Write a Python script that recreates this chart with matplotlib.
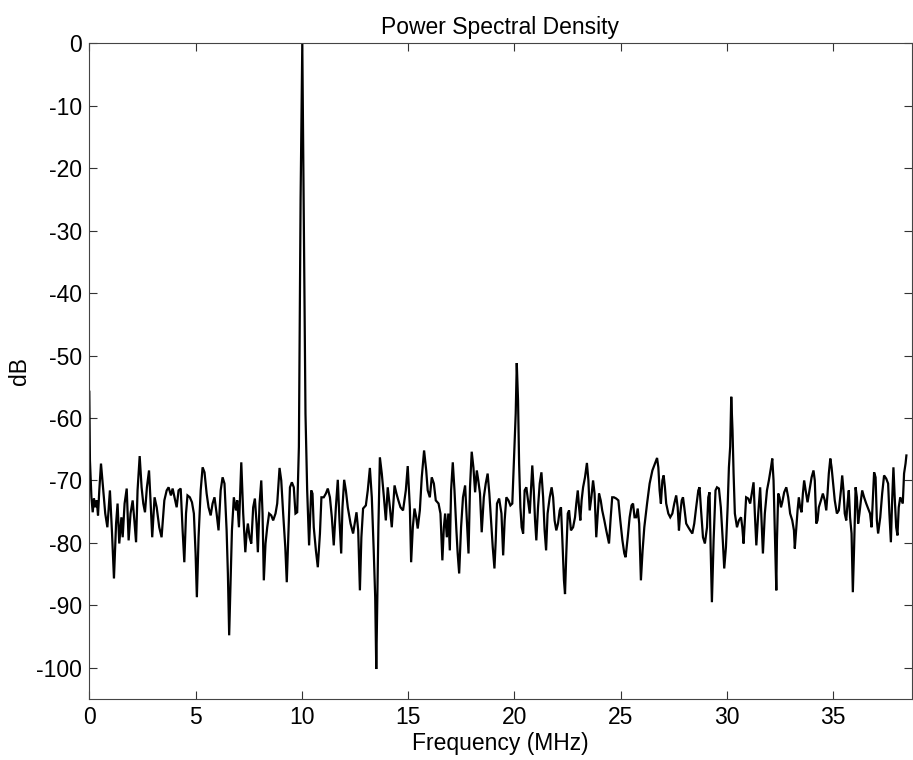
import matplotlib
matplotlib.use("Agg")
import matplotlib.pyplot as plt

freq_mhz = [
    0.00, 0.03, 0.10, 0.16, 0.22, 0.28, 0.35, 0.41, 0.47, 0.55, 0.66, 0.75, 0.85, 0.97, 1.07, 1.16,
    1.26, 1.33, 1.41, 1.51, 1.57, 1.66, 1.76, 1.85, 1.94, 2.04, 2.12, 2.20, 2.27, 2.37, 2.46, 2.54,
    2.62, 2.71, 2.81, 2.88, 2.96, 3.07, 3.17, 3.29, 3.40, 3.53, 3.64, 3.73, 3.84, 3.92, 4.01, 4.11,
    4.20, 4.30, 4.39, 4.47, 4.55, 4.62, 4.73, 4.83, 4.92, 5.00, 5.06, 5.14, 5.24, 5.33, 5.42, 5.52,
    5.61, 5.71, 5.80, 5.89, 5.99, 6.08, 6.18, 6.27, 6.36,
    6.46, 6.52, 6.58, 6.65, 6.71, 6.80, 6.90, 6.96, 7.04, 7.15, 7.24, 7.34, 7.40, 7.46, 7.54, 7.62,
    7.71, 7.79, 7.87, 7.93, 8.01, 8.09, 8.15, 8.21, 8.29, 8.37, 8.46, 8.56, 8.65, 8.76, 8.84, 8.95,
    9.03, 9.12, 9.22, 9.29, 9.36, 9.44, 9.53, 9.62, 9.70, 9.78, 9.86, 9.94, 10.02, 10.09, 10.17,
    10.25, 10.34, 10.44, 10.50, 10.56, 10.66, 10.75, 10.85, 10.92, 11.03, 11.13, 11.22, 11.32, 11.41,
    11.50, 11.60, 11.69, 11.77, 11.85, 11.91, 11.99, 12.07, 12.16, 12.29, 12.41, 12.51, 12.57, 12.65,
    12.73, 12.80,
    12.88, 13.01, 13.10, 13.20, 13.29, 13.38, 13.45, 13.50, 13.56, 13.60, 13.67, 13.76, 13.86, 13.95,
    14.04, 14.14, 14.23, 14.36, 14.45, 14.54, 14.64, 14.76, 14.89, 14.98, 15.08, 15.14, 15.22, 15.30,
    15.38, 15.45, 15.55, 15.64, 15.75, 15.85, 15.92, 16.02, 16.11, 16.21, 16.30, 16.43, 16.52, 16.61,
    16.68, 16.74, 16.82, 16.89, 16.96, 17.02, 17.10, 17.18, 17.27, 17.33, 17.40, 17.49, 17.58, 17.68,
    17.77, 17.84, 17.91, 17.99, 18.07, 18.15, 18.23, 18.30, 18.38, 18.46, 18.56, 18.65, 18.74, 18.82,
    18.90, 18.98, 19.06, 19.12, 19.18, 19.28,
    19.39, 19.47, 19.54, 19.62, 19.72, 19.81, 19.90, 19.99, 20.06, 20.11, 20.17, 20.22, 20.28, 20.34,
    20.41, 20.48, 20.56, 20.64, 20.72, 20.80, 20.84, 20.91, 20.97, 21.03, 21.11, 21.19, 21.27, 21.35,
    21.42, 21.49, 21.56, 21.66, 21.75, 21.82, 21.89, 21.97, 22.05, 22.13, 22.19, 22.25, 22.33, 22.38,
    22.44, 22.51, 22.57, 22.66, 22.76, 22.85, 22.91, 22.98, 23.04, 23.10, 23.16, 23.23, 23.32, 23.41,
    23.48, 23.54, 23.62, 23.70, 23.77, 23.85, 23.92, 23.98, 24.06, 24.13, 24.23, 24.32, 24.45, 24.53,
    24.60, 24.68, 24.79, 24.89, 24.98, 25.08, 25.17, 25.23, 25.33, 25.42, 25.51, 25.58, 25.65, 25.73,
    25.80, 25.87, 25.95, 26.03, 26.11, 26.24, 26.36, 26.49, 26.61, 26.71, 26.77, 26.83, 26.89, 26.96,
    27.02, 27.08, 27.14, 27.24, 27.33, 27.43, 27.52, 27.61, 27.68, 27.74, 27.80, 27.87, 27.93, 27.99,
    28.08, 28.18, 28.27, 28.37, 28.46, 28.55, 28.65, 28.71, 28.77, 28.87, 28.96, 29.06, 29.12, 29.18,
    29.23, 29.29, 29.37, 29.46, 29.53, 29.62, 29.71, 29.81, 29.87, 29.95, 30.03, 30.09, 30.15, 30.20,
    30.26, 30.31, 30.37, 30.47, 30.56, 30.66, 30.72, 30.78, 30.84, 30.90, 31.00, 31.09, 31.19, 31.25,
    31.31, 31.38, 31.47, 31.56, 31.63, 31.69, 31.78, 31.88, 31.97, 32.07, 32.13, 32.19, 32.25, 32.32,
    32.35, 32.41, 32.47, 32.54, 32.60, 32.69, 32.79, 32.88, 32.97, 33.07, 33.15, 33.19, 33.26, 33.32,
    33.38, 33.44, 33.51, 33.57, 33.63, 33.70, 33.79, 33.88, 33.98, 34.07, 34.13, 34.20, 34.26, 34.32,
    34.42, 34.51, 34.60, 34.67, 34.73, 34.79, 34.86, 34.92, 34.98, 35.07, 35.17, 35.26, 35.36, 35.42,
    35.48, 35.54, 35.61, 35.67, 35.73, 35.79, 35.86, 35.92, 35.98, 36.05, 36.11, 36.17, 36.23, 36.30,
    36.36, 36.45, 36.55, 36.64, 36.73, 36.80, 36.86, 36.92, 36.99, 37.05, 37.11, 37.21, 37.30, 37.39,
    37.49, 37.58, 37.64, 37.71, 37.77, 37.83, 37.89, 37.96, 38.02, 38.08, 38.15, 38.21, 38.27, 38.33,
    38.40, 38.44,
]

psd_db = [
    -55.8, -66.8, -72.7, -75.1, -72.9, -74.3, -73.2, -75.6, -71.6, -67.3, -71.6, -75.3, -77.5, -71.6, -78.5, -85.7,
    -76.9, -73.7, -80.1, -75.9, -79.1, -73.7, -71.3, -79.6, -75.3, -73.2, -76.4, -79.9, -71.6, -66.1, -71.1, -73.7,
    -75.1, -71.1, -68.4, -73.2, -79.1, -72.7, -74.3, -77.5, -79.1, -73.2, -71.6, -71.1, -72.4, -71.3, -72.7, -74.3,
    -71.6, -71.3, -78.0, -83.1, -75.3, -72.4, -72.7, -73.5, -75.3, -81.7, -88.7, -79.1, -71.6, -67.9, -68.7, -72.1,
    -74.3, -75.6, -73.7, -72.7, -75.3, -78.0, -71.6, -69.5, -70.5,
    -78.0, -85.0, -94.8, -86.0, -78.0, -72.7, -74.8, -73.2, -77.5, -67.1, -75.3, -81.5, -78.5, -76.9, -79.1, -80.1,
    -74.3, -72.9, -76.9, -81.5, -73.7, -70.0, -75.3, -86.0, -80.1, -77.5, -75.3, -75.6, -76.4, -75.3, -73.7, -68.0,
    -70.0, -75.3, -80.7, -86.3, -79.1, -71.1, -70.3, -71.1, -75.3, -75.1, -64.6, -25.0, 0.0, -27.0, -59.3,
    -71.6, -80.4, -71.6, -72.1, -77.5, -81.2, -83.9, -78.5, -72.7, -72.7, -72.1, -71.3, -72.7, -75.9,
    -80.4, -74.3, -69.9, -76.4, -81.7, -74.3, -69.9, -71.6, -74.3, -76.9, -78.5, -76.4, -75.1, -78.0,
    -87.6, -79.1,
    -74.5, -74.0, -71.6, -68.0, -72.7, -81.2, -88.7, -100.2, -87.1, -77.5, -66.3, -68.9, -72.7, -76.4,
    -71.1, -74.3, -77.5, -70.8, -72.1, -73.2, -74.3, -74.8, -71.6, -67.7, -74.3, -83.1, -77.5, -74.5,
    -75.9, -77.7, -74.8, -69.5, -65.2, -68.4, -71.6, -72.7, -69.5, -70.5, -73.2, -73.7, -75.3, -82.8,
    -77.5, -75.3, -79.1, -75.3, -81.2, -71.6, -67.1, -71.6, -78.0, -81.7, -84.9, -77.5, -72.7, -70.8,
    -76.9, -81.7, -71.1, -65.4, -67.9, -71.9, -68.4, -70.0, -72.1, -78.3, -72.7, -70.5, -68.9, -72.1,
    -76.4, -80.7, -84.1, -79.6, -73.7, -72.9,
    -75.3, -82.0, -76.4, -72.7, -73.2, -74.0, -73.7, -65.7, -59.3, -51.2, -57.2, -67.3, -74.3, -77.5,
    -78.5, -71.6, -71.1, -73.2, -75.3, -70.0, -67.6, -71.6, -76.4, -79.6, -74.3, -70.5, -68.7, -72.7,
    -78.0, -81.2, -75.3, -72.7, -71.1, -72.7, -76.4, -78.0, -76.9, -74.8, -74.3, -79.1, -86.0, -88.2,
    -81.7, -75.3, -74.8, -78.0, -77.5, -75.9, -73.7, -71.6, -74.3, -76.4, -73.2, -71.1, -69.5, -67.2,
    -70.0, -74.8, -72.7, -70.0, -72.1, -79.1, -75.3, -72.1, -73.2, -74.8, -76.4, -78.0, -80.1, -75.9,
    -72.7, -72.7, -72.9, -73.2, -76.4, -79.6, -81.7, -82.3, -79.1, -75.9, -74.0, -73.7, -75.9, -75.9,
    -74.5, -76.9, -86.0, -81.2, -77.5, -73.7, -70.5, -68.4, -67.3, -66.4, -67.9, -71.6, -73.7, -70.0,
    -69.2, -71.1, -73.7, -75.3, -75.9, -75.3, -73.7, -72.4, -74.3, -78.0, -75.3, -73.2, -72.7, -74.3,
    -76.9, -77.5, -78.0, -78.5, -76.9, -74.3, -71.6, -71.1, -74.3, -79.1, -80.1, -77.5, -72.7, -71.9,
    -80.7, -89.5, -79.6, -71.6, -71.1, -71.3, -74.3, -80.1, -84.1, -80.7, -74.3, -67.9, -64.6, -56.6,
    -62.0, -68.9, -75.3, -77.5, -76.4, -75.9, -77.5, -80.1, -76.4, -72.7, -72.9, -73.7, -71.6, -70.3,
    -75.3, -80.4, -75.3, -71.1, -76.9, -81.7, -75.3, -71.6, -70.0, -67.9, -66.5, -70.0, -78.0, -87.6,
    -79.6, -72.1, -72.7, -74.3, -73.5, -71.9, -71.1, -72.7, -75.3, -76.4, -78.0, -80.9, -77.5, -74.8,
    -72.7, -74.3, -75.1, -72.1, -70.0, -71.6, -73.5, -71.6, -69.5, -68.4, -70.0, -76.9, -76.4, -74.3,
    -73.2, -72.1, -73.2, -74.8, -72.1, -68.9, -66.5, -67.9, -70.0, -73.2, -75.3, -74.8, -71.6, -69.2,
    -71.6, -75.3, -76.4, -73.7, -71.6, -75.9, -78.5, -87.9, -80.7, -71.1, -72.7, -76.9, -75.3, -73.2,
    -71.6, -72.7, -73.7, -74.5, -75.3, -77.5, -73.2, -68.7, -69.5, -76.4, -78.5, -75.9, -72.1, -69.2,
    -69.7, -70.5, -75.3, -79.9, -73.2, -67.9, -72.7, -77.5, -78.8, -74.3, -72.7, -73.2, -73.7, -68.9,
    -67.3, -66.0,
]

x_ticks = [0, 5, 10, 15, 20, 25, 30, 35]
y_ticks = [0, -10, -20, -30, -40, -50, -60, -70, -80, -90, -100]
x_limits = (0, 38.68)
y_limits = (-105, 0)

plt.rcParams['font.family'] = ['Liberation Sans', 'DejaVu Sans']

fig = plt.figure(figsize=(9.13, 7.60), dpi=100)
ax = fig.add_axes([89.3 / 913, 1 - 699 / 760, (911.5 - 89.3) / 913, (699 - 43.3) / 760])

ax.plot(freq_mhz, psd_db, color='black', linewidth=1.6, solid_joinstyle='miter')

ax.set_xlim(*x_limits)
ax.set_ylim(*y_limits)
ax.set_xticks(x_ticks)
ax.set_yticks(y_ticks)
ax.set_xticklabels([str(t) for t in x_ticks])
ax.set_yticklabels([str(t) for t in y_ticks])

ax.tick_params(direction='in', length=6, width=0.8, colors='#333333', labelcolor='black',
               labelsize=16.5, top=True, right=True, pad=5)
for s in ax.spines.values():
    s.set_color('#444444')
    s.set_linewidth(0.8)

ax.set_title('Power Spectral Density', fontsize=16.5, pad=7)
ax.set_xlabel('Frequency (MHz)', fontsize=16.5, labelpad=2)
ax.set_ylabel('dB', fontsize=16.5, labelpad=4)

fig.savefig('out.png', dpi=100, facecolor='white')
